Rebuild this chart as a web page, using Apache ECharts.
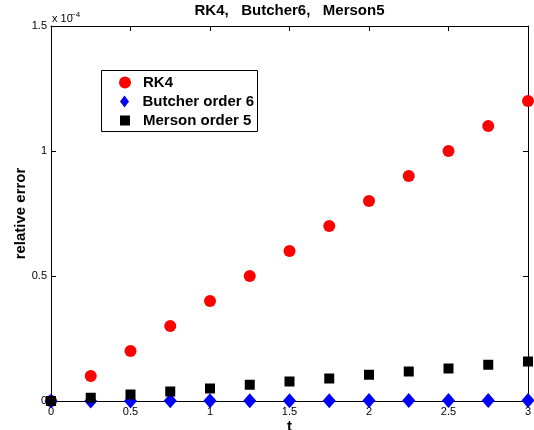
<!DOCTYPE html>
<html><head><meta charset="utf-8">
<script src="https://cdn.jsdelivr.net/npm/echarts@6/dist/echarts.min.js"></script>
<style>html,body{margin:0;padding:0;background:#fff}#c{width:534px;height:430px}</style>
</head><body><div id="c"></div>
<script>
// time points t
const tValues = [0, 0.25, 0.5, 0.75, 1, 1.25, 1.5, 1.75, 2, 2.25, 2.5, 2.75, 3];
// relative errors, in units of 1e-4 (axis shows "x 10^-4")
const rk4Err     = [0, 0.10, 0.20, 0.30, 0.40, 0.50, 0.60, 0.70, 0.80, 0.90, 1.00, 1.10, 1.20];
const butcherErr = [0, 0.0002, 0.0004, 0.0006, 0.0008, 0.001, 0.0012, 0.0014, 0.0016, 0.0018, 0.002, 0.0022, 0.0024];
const mersonErr  = [0, 0.013, 0.026, 0.038, 0.050, 0.065, 0.078, 0.090, 0.105, 0.118, 0.130, 0.145, 0.158];
const xTicks = [0, 0.5, 1, 1.5, 2, 2.5, 3];
const yTicks = [0, 0.5, 1, 1.5];
const seriesNames = ['RK4', 'Butcher order 6', 'Merson order 5'];
const titleText = 'RK4,   Butcher6,   Merson5';

const F = "'Liberation Sans', Arial, Helvetica, sans-serif";
const pairs = arr => tValues.map((t, i) => [t, arr[i]]);

const chart = echarts.init(document.getElementById('c'), null, {renderer: 'canvas'});

const axisCommon = {
  type: 'value',
  axisLine: {show: true, onZero: false, lineStyle: {color: '#000', width: 1}},
  axisTick: {show: true, inside: true, length: 5, lineStyle: {color: '#000', width: 1}},
  splitLine: {show: false},
  minorTick: {show: false}
};

const legendCommon = {
  orient: 'horizontal', padding: 0, itemWidth: 26, itemGap: 0,
  textStyle: {fontFamily: F, fontSize: 15, fontWeight: 'bold', color: '#000'},
  selectedMode: false
};

chart.setOption({
  animation: false,
  backgroundColor: '#fff',
  title: {
    text: titleText, left: 289.5, top: 3, padding: 0, textAlign: 'center',
    textStyle: {fontFamily: F, fontSize: 15, fontWeight: 'bold', color: '#000'}
  },
  grid: {left: 51, right: 6, top: 26, bottom: 29, containLabel: false, outerBoundsMode: 'none'},
  xAxis: [
    Object.assign({}, axisCommon, {
      position: 'bottom', min: xTicks[0], max: xTicks[xTicks.length - 1], interval: 0.5,
      name: 't', nameLocation: 'middle', nameGap: 18, nameMoveOverlap: false,
      nameTextStyle: {fontFamily: F, fontSize: 15, fontWeight: 'bold', color: '#000'},
      axisLabel: {show: true, margin: 5, fontFamily: F, fontSize: 11, color: '#000',
        formatter: v => String(v)}
    }),
    Object.assign({}, axisCommon, {
      position: 'top', min: xTicks[0], max: xTicks[xTicks.length - 1], interval: 0.5,
      axisLabel: {show: false}
    })
  ],
  yAxis: [
    Object.assign({}, axisCommon, {
      position: 'left', min: yTicks[0], max: yTicks[yTicks.length - 1], interval: 0.5,
      name: 'relative error', nameLocation: 'middle', nameGap: 23, nameMoveOverlap: false,
      nameTextStyle: {fontFamily: F, fontSize: 15, fontWeight: 'bold', color: '#000'},
      axisLabel: {show: true, margin: 4, fontFamily: F, fontSize: 11, color: '#000',
        formatter: v => String(v)}
    }),
    Object.assign({}, axisCommon, {
      position: 'right', min: yTicks[0], max: yTicks[yTicks.length - 1], interval: 0.5,
      axisLabel: {show: false}
    })
  ],
  legend: [
    Object.assign({}, legendCommon, {left: 119, top: 75, itemHeight: 12,
      data: [{name: seriesNames[0], icon: 'circle'}]}),
    Object.assign({}, legendCommon, {left: 120, top: 94, itemHeight: 12,
      data: [{name: seriesNames[1], icon: 'path://M4.5,0L9,6L4.5,12L0,6Z'}]}),
    Object.assign({}, legendCommon, {left: 120, top: 113, itemHeight: 10,
      data: [{name: seriesNames[2], icon: 'path://M0,0L10,0L10,10L0,10Z'}]})
  ],
  graphic: [
    {type: 'rect', z: 3, shape: {x: 101.5, y: 70.5, width: 156, height: 61},
      style: {fill: '#fff', stroke: '#000', lineWidth: 1}},
    {type: 'text', z: 5, x: 52, y: 18.5,
      style: {text: 'x 10', fontFamily: F, fontSize: 11, fill: '#000', verticalAlign: 'middle', align: 'left'}},
    {type: 'text', z: 5, x: 71, y: 15,
      style: {text: '\u22124', fontFamily: F, fontSize: 8, fill: '#000', verticalAlign: 'middle', align: 'left'}}
  ],
  series: [
    {name: seriesNames[0], type: 'scatter', data: pairs(rk4Err), symbol: 'circle', symbolSize: 12,
      itemStyle: {color: '#ff0000', opacity: 1}, clip: false, z: 2, emphasis: {disabled: true}},
    {name: seriesNames[1], type: 'scatter', data: pairs(butcherErr), symbol: 'diamond', symbolSize: [13, 15],
      itemStyle: {color: '#0000ff', opacity: 1}, clip: false, z: 2, emphasis: {disabled: true}},
    {name: seriesNames[2], type: 'scatter', data: pairs(mersonErr), symbol: 'rect', symbolSize: 10,
      itemStyle: {color: '#000000', opacity: 1}, clip: false, z: 2, emphasis: {disabled: true}}
  ]
});
</script>
</body></html>
